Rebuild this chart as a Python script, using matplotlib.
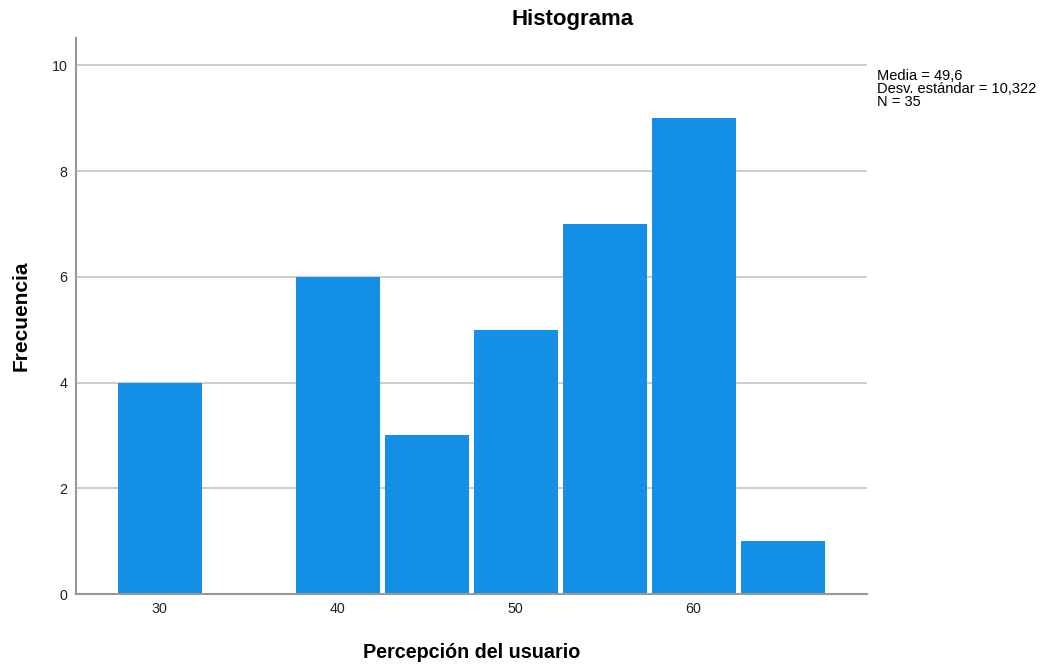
import matplotlib
matplotlib.use("Agg")
import matplotlib.pyplot as plt

bin_centers = [30, 35, 40, 45, 50, 55, 60, 65]
counts = [4, 0, 6, 3, 5, 7, 9, 1]
x_ticks = [30, 40, 50, 60]
y_ticks = [0, 2, 4, 6, 8, 10]
stats_lines = ["Media = 49,6", "Desv. estándar = 10,322", "N = 35"]

plt.rcParams['font.family'] = ['Liberation Sans', 'DejaVu Sans']

fig = plt.figure(figsize=(10.46, 6.67), dpi=100)
ax = fig.add_axes([76/1046, 1 - 594/667, (867-76)/1046, (594-38)/667])

ax.set_axisbelow(True)
ax.grid(axis='y', color='#c8c8c8', linewidth=1.3)
ax.bar(bin_centers, counts, width=4.72, color='#1390E6', edgecolor='none', zorder=2)

ax.set_xlim(25.29, 69.74)
ax.set_ylim(0, 10.52)
ax.set_xticks(x_ticks)
ax.set_yticks(y_ticks)
ax.tick_params(length=0, labelsize=10.3, colors='#222222')
ax.tick_params(axis='x', pad=5.5)
ax.tick_params(axis='y', pad=6)
for s in ['top', 'right']:
    ax.spines[s].set_visible(False)
for s in ['left', 'bottom']:
    ax.spines[s].set_color('#999999')
    ax.spines[s].set_linewidth(1.5)

ax.set_xlabel('Percepción del usuario', fontsize=14.2, fontweight='bold', labelpad=20)
ax.set_ylabel('Frecuencia', fontsize=15, fontweight='bold', labelpad=15)

fig.text(573/1046, 1 - 19/667, 'Histograma', ha='center', va='center', fontsize=16, fontweight='bold')
fig.text(877/1046, 1 - 69/667, "\n".join(stats_lines), ha='left', va='top', fontsize=10.5, linespacing=0.92)

fig.savefig('out.png', dpi=100)
